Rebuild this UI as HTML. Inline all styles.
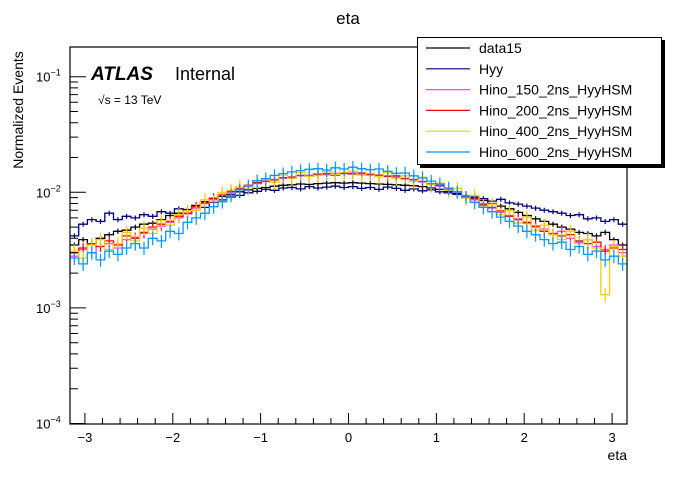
<!DOCTYPE html>
<html><head><meta charset="utf-8"><style>
body{margin:0;background:#fff;}
svg text{font-family:"Liberation Sans",sans-serif;}
</style></head><body>
<svg id="c" width="696" height="472" xmlns="http://www.w3.org/2000/svg">
<rect width="696" height="472" fill="#fff"/>
<text x="348" y="24" font-size="17" text-anchor="middle">eta</text>
<text transform="translate(23,110) rotate(-90)" font-size="14" text-anchor="middle">Normalized Events</text>
<text x="627" y="460" font-size="14" text-anchor="end">eta</text>
<text x="91" y="80" font-size="19" font-weight="bold" font-style="italic">ATLAS</text>
<text x="175" y="80" font-size="18">Internal</text>
<text x="98" y="104" font-size="12">√s = 13 TeV</text>
<g id="marks"></g>
<g id="axes"></g>
<g id="legend"></g>
</svg>
<script>
const xMin=-3.17, xMax=3.17;
const data15=[3.5,3.9,3.6,4.0,4.3,4.6,4.7,5.0,5.3,5.4,5.8,6.3,6.6,7.1,7.7,8.3,8.8,9.2,9.6,10.1,10.5,10.8,11.0,11.3,11.5,11.6,11.8,11.7,11.9,12.0,12.1,12.0,
12.1,12.0,11.9,11.8,11.7,11.6,11.5,11.4,11.2,10.9,10.6,10.2,9.8,9.3,8.9,8.5,8.0,7.6,7.2,6.7,6.3,5.9,5.6,5.3,5.0,4.8,4.5,4.4,4.2,4.5,3.9,3.5];
const hyy=[4.2,5.3,5.8,5.6,6.6,5.8,6.2,6.0,6.4,6.2,6.8,6.6,7.2,6.9,7.6,7.4,8.2,8.6,9.1,9.4,9.9,10.2,10.6,10.4,10.9,11.0,10.7,11.2,10.9,11.1,11.3,11.0,
11.2,10.8,11.0,10.6,11.1,10.8,10.4,10.7,10.3,10.5,10.1,9.9,9.6,9.3,9.1,8.8,8.4,8.7,8.1,7.9,7.6,7.3,7.0,6.8,6.6,6.3,6.4,5.9,6.0,5.6,5.8,5.3];
const hino150=[2.8,3.2,3.0,3.4,3.6,3.3,3.9,4.1,4.4,4.8,5.1,5.5,6.0,6.5,7.3,8.0,8.6,9.4,10.0,10.8,11.3,11.9,12.4,12.9,13.2,13.6,13.9,14.1,14.4,14.2,14.6,14.5,
14.7,14.4,14.3,14.0,13.9,13.5,13.2,12.8,12.3,11.9,11.3,10.7,10.0,9.3,8.6,8.0,7.3,6.7,6.3,5.9,5.4,5.0,4.8,4.3,4.6,4.0,3.7,3.9,3.4,3.2,3.5,3.0];
const hino200=[3.0,3.3,3.6,3.4,3.8,3.5,4.2,4.0,4.5,5.0,5.3,5.6,6.2,6.6,7.5,8.1,8.9,9.5,10.2,10.7,11.5,12.1,12.5,12.8,13.4,13.5,14.0,13.8,14.3,14.5,14.1,14.6,
14.4,14.7,14.2,14.1,13.7,13.9,13.1,12.9,12.4,11.7,11.5,10.5,10.1,9.2,8.8,7.8,7.4,6.9,6.2,5.8,5.5,5.1,4.6,4.4,4.2,4.3,3.8,3.6,3.7,3.1,3.3,3.2];
const hino400=[3.1,2.7,3.5,3.9,3.2,3.6,4.5,3.8,4.9,4.4,5.7,5.2,6.4,6.9,7.0,8.6,8.3,9.9,10.4,11.2,10.9,12.5,13.0,12.2,14.1,13.2,14.8,13.7,14.0,15.1,14.3,14.9,
15.2,14.1,14.6,13.6,14.8,13.2,13.9,12.4,13.5,11.6,12.0,10.4,10.8,8.9,9.4,7.6,7.9,6.4,6.9,5.4,6.1,4.7,5.2,4.3,3.9,4.6,3.6,3.9,3.3,1.3,3.4,2.8];
const hino600=[2.7,2.4,3.0,2.6,3.1,2.9,3.3,3.6,3.3,4.0,3.8,4.6,4.4,5.5,6.0,6.6,7.5,8.3,9.4,10.5,11.4,12.6,13.1,14.0,14.5,15.0,15.4,15.8,16.0,15.6,16.3,15.9,
16.5,16.0,15.7,15.9,15.2,14.6,14.7,13.9,13.3,12.5,11.8,10.9,10.1,9.1,8.2,7.4,6.8,6.1,5.6,5.1,4.6,4.3,3.9,3.6,3.7,3.2,3.4,2.9,3.1,2.6,2.8,2.4];
const seriesNames=["data15","Hyy","Hino_150_2ns_HyyHSM","Hino_200_2ns_HyyHSM","Hino_400_2ns_HyyHSM","Hino_600_2ns_HyyHSM"];
const xTicks=[-3,-2,-1,0,1,2,3];

const NS="http://www.w3.org/2000/svg";
const L=70,R=627,T=47,B=424;
const yDec=115.6, y1=76.7; // y pixel of 1e-1
function X(v){return L+(v-xMin)/(xMax-xMin)*(R-L);}
function Y(v){return y1+(-1-Math.log10(v))*yDec;}
function mk(tag,attrs,parent){const e=document.createElementNS(NS,tag);for(const k in attrs)e.setAttribute(k,attrs[k]);parent.appendChild(e);return e;}
const marks=document.getElementById('marks');
const cols=["#000000","#000080","#ff44ff","#ff0000","#ffcc00","#0099ff"];
const errs=[0.05,0.05,0.1,0.1,0.14,0.13];
const all=[data15,hyy,hino150,hino200,hino400,hino600];
const drawOrder=[1,0,2,3,4,5];
drawOrder.forEach(si=>{
  const vals=all[si];const n=vals.length;const w=(xMax-xMin)/n;
  let d="";
  vals.forEach((v,i)=>{const val=v*1e-3;const x0=X(xMin+i*w),x1=X(xMin+(i+1)*w),y=Y(val);
    d+=(i===0?"M":"L")+x0.toFixed(1)+","+y.toFixed(1)+"L"+x1.toFixed(1)+","+y.toFixed(1);});
  const g=mk('g',{},marks);
  
  
  const p=mk('path',{d:d,fill:"none",stroke:cols[si],"stroke-width":1.3},g);
  
  
  let ed="";
  vals.forEach((v,i)=>{const val=v*1e-3;const xc=X(xMin+(i+0.5)*w);
    ed+="M"+xc.toFixed(1)+","+Y(val*(1+errs[si])).toFixed(1)+"L"+xc.toFixed(1)+","+Y(val*(1-errs[si])).toFixed(1);});
  const e=mk('path',{d:ed,fill:"none",stroke:cols[si],"stroke-width":1.2},g);
  
  
});
// axes
const ax=document.getElementById('axes');
const fr=mk('rect',{x:L,y:T,width:R-L,height:B-T,fill:"none",stroke:"#000","stroke-width":1.2},ax);


let td="";
for(let v=-3.0;v<=3.01;v+=0.2){const x=X(v);const maj=Math.abs(v-Math.round(v))<0.01;td+="M"+x.toFixed(1)+","+B+"V"+(B-(maj?11:6));}
for(let dec=-4;dec<=-1;dec++){for(let m=1;m<=9;m++){const v=m*Math.pow(10,dec);const y=Y(v);if(y<T)continue;td+="M"+L+","+y.toFixed(1)+"H"+(L+(m===1?16:8));}}
const tk=mk('path',{d:td,stroke:"#000","stroke-width":1,fill:"none"},ax);


xTicks.forEach(v=>{const t=mk('text',{x:X(v),y:442,"font-size":13,"text-anchor":"middle"},ax);t.textContent=v<0?"\u2212"+(-v):String(v);
  
  });
[-1,-2,-3,-4].forEach(p=>{const y=Y(Math.pow(10,p));const t=mk('text',{x:36,y:y+5,"font-size":13},ax);
  t.innerHTML='10<tspan dy="-6" font-size="9">\u2212'+(-p)+'</tspan>';
  
  });
// legend
const lg=document.getElementById('legend');


mk('rect',{x:420,y:40,width:245,height:128,fill:"#000"},lg);
mk('rect',{x:417.5,y:37.5,width:244,height:127,fill:"#fff",stroke:"#000","stroke-width":1},lg);
const legCols=["#000000","#000080","#ff44ff","#ff0000","#ffcc00","#0099ff"];
seriesNames.forEach((nm,i)=>{const y=48+i*20.8;const g=mk('g',{},lg);
  
  
  mk('line',{x1:426,x2:470,y1:y,y2:y,stroke:legCols[i],"stroke-width":1.2},g);
  const t=mk('text',{x:479,y:y+5,"font-size":14},g);t.textContent=nm;});
</script>
</body></html>
